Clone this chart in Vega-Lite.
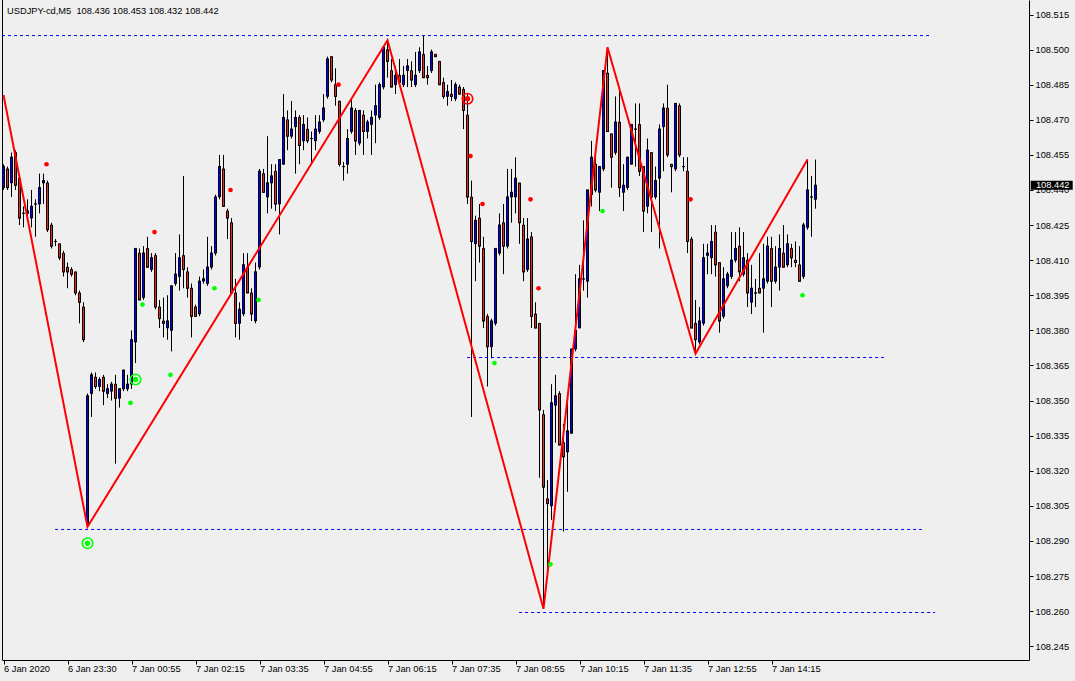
{
"$schema": "https://vega.github.io/schema/vega-lite/v6.json",
"width": 1027, "height": 660,
"autosize": {"type": "none"},
"padding": {"left": 2, "top": 0, "right": 46, "bottom": 21},
"background": "#efefef",
"config": {"view": {"stroke": null}, "scale": {"continuousPadding": 0}, "axis": {"labelFont": "Liberation Sans", "labelFontSize": 9.3, "labelColor": "#000000", "tickColor": "#000000", "domainColor": "#000000", "grid": false}},
"datasets": {
"bars": [
{"i":0,"o":108.441,"h":108.451,"l":108.440,"c":108.450},
{"i":1,"o":108.449,"h":108.450,"l":108.440,"c":108.441},
{"i":2,"o":108.443,"h":108.456,"l":108.437,"c":108.454},
{"i":3,"o":108.456,"h":108.457,"l":108.440,"c":108.442},
{"i":4,"o":108.445,"h":108.446,"l":108.425,"c":108.428},
{"i":5,"o":108.430,"h":108.433,"l":108.424,"c":108.430},
{"i":6,"o":108.430,"h":108.436,"l":108.427,"c":108.431},
{"i":7,"o":108.428,"h":108.440,"l":108.424,"c":108.433},
{"i":8,"o":108.434,"h":108.436,"l":108.420,"c":108.434},
{"i":9,"o":108.434,"h":108.447,"l":108.430,"c":108.441},
{"i":10,"o":108.443,"h":108.447,"l":108.434,"c":108.444},
{"i":11,"o":108.443,"h":108.444,"l":108.422,"c":108.423},
{"i":12,"o":108.425,"h":108.426,"l":108.415,"c":108.416},
{"i":13,"o":108.418,"h":108.419,"l":108.416,"c":108.418},
{"i":14,"o":108.417,"h":108.417,"l":108.410,"c":108.411},
{"i":15,"o":108.413,"h":108.414,"l":108.403,"c":108.405},
{"i":16,"o":108.407,"h":108.409,"l":108.398,"c":108.405},
{"i":17,"o":108.406,"h":108.407,"l":108.403,"c":108.404},
{"i":18,"o":108.405,"h":108.405,"l":108.395,"c":108.396},
{"i":19,"o":108.396,"h":108.397,"l":108.383,"c":108.392},
{"i":20,"o":108.390,"h":108.392,"l":108.375,"c":108.376},
{"i":21,"o":108.297,"h":108.353,"l":108.296,"c":108.352},
{"i":22,"o":108.353,"h":108.362,"l":108.343,"c":108.361},
{"i":23,"o":108.360,"h":108.362,"l":108.355,"c":108.356},
{"i":24,"o":108.356,"h":108.360,"l":108.354,"c":108.359},
{"i":25,"o":108.360,"h":108.361,"l":108.348,"c":108.354},
{"i":26,"o":108.353,"h":108.357,"l":108.351,"c":108.355},
{"i":27,"o":108.354,"h":108.358,"l":108.350,"c":108.357},
{"i":28,"o":108.357,"h":108.361,"l":108.323,"c":108.351},
{"i":29,"o":108.351,"h":108.355,"l":108.347,"c":108.355},
{"i":30,"o":108.355,"h":108.363,"l":108.354,"c":108.363},
{"i":31,"o":108.355,"h":108.361,"l":108.354,"c":108.357},
{"i":32,"o":108.357,"h":108.380,"l":108.355,"c":108.376},
{"i":33,"o":108.375,"h":108.415,"l":108.366,"c":108.415},
{"i":34,"o":108.413,"h":108.415,"l":108.393,"c":108.393},
{"i":35,"o":108.394,"h":108.416,"l":108.393,"c":108.413},
{"i":36,"o":108.415,"h":108.420,"l":108.407,"c":108.407},
{"i":37,"o":108.406,"h":108.413,"l":108.405,"c":108.411},
{"i":38,"o":108.412,"h":108.413,"l":108.389,"c":108.390},
{"i":39,"o":108.390,"h":108.393,"l":108.381,"c":108.385},
{"i":40,"o":108.384,"h":108.394,"l":108.377,"c":108.383},
{"i":41,"o":108.381,"h":108.395,"l":108.376,"c":108.384},
{"i":42,"o":108.380,"h":108.399,"l":108.371,"c":108.399},
{"i":43,"o":108.400,"h":108.413,"l":108.399,"c":108.404},
{"i":44,"o":108.403,"h":108.421,"l":108.397,"c":108.411},
{"i":45,"o":108.412,"h":108.446,"l":108.398,"c":108.406},
{"i":46,"o":108.405,"h":108.407,"l":108.394,"c":108.398},
{"i":47,"o":108.398,"h":108.400,"l":108.377,"c":108.386},
{"i":48,"o":108.390,"h":108.391,"l":108.386,"c":108.386},
{"i":49,"o":108.387,"h":108.403,"l":108.386,"c":108.401},
{"i":50,"o":108.401,"h":108.406,"l":108.400,"c":108.402},
{"i":51,"o":108.400,"h":108.420,"l":108.399,"c":108.407},
{"i":52,"o":108.407,"h":108.416,"l":108.406,"c":108.413},
{"i":53,"o":108.413,"h":108.438,"l":108.412,"c":108.437},
{"i":54,"o":108.437,"h":108.455,"l":108.436,"c":108.450},
{"i":55,"o":108.449,"h":108.455,"l":108.433,"c":108.433},
{"i":56,"o":108.431,"h":108.432,"l":108.419,"c":108.428},
{"i":57,"o":108.426,"h":108.428,"l":108.396,"c":108.396},
{"i":58,"o":108.396,"h":108.402,"l":108.377,"c":108.383},
{"i":59,"o":108.383,"h":108.392,"l":108.376,"c":108.389},
{"i":60,"o":108.387,"h":108.413,"l":108.386,"c":108.408},
{"i":61,"o":108.407,"h":108.413,"l":108.396,"c":108.396},
{"i":62,"o":108.396,"h":108.398,"l":108.384,"c":108.387},
{"i":63,"o":108.384,"h":108.409,"l":108.383,"c":108.405},
{"i":64,"o":108.407,"h":108.449,"l":108.406,"c":108.448},
{"i":65,"o":108.447,"h":108.449,"l":108.439,"c":108.439},
{"i":66,"o":108.437,"h":108.463,"l":108.430,"c":108.443},
{"i":67,"o":108.443,"h":108.451,"l":108.432,"c":108.446},
{"i":68,"o":108.448,"h":108.451,"l":108.431,"c":108.434},
{"i":69,"o":108.434,"h":108.453,"l":108.421,"c":108.453},
{"i":70,"o":108.451,"h":108.481,"l":108.451,"c":108.471},
{"i":71,"o":108.470,"h":108.474,"l":108.457,"c":108.463},
{"i":72,"o":108.463,"h":108.478,"l":108.462,"c":108.466},
{"i":73,"o":108.467,"h":108.474,"l":108.447,"c":108.471},
{"i":74,"o":108.471,"h":108.472,"l":108.451,"c":108.459},
{"i":75,"o":108.461,"h":108.472,"l":108.457,"c":108.468},
{"i":76,"o":108.466,"h":108.471,"l":108.460,"c":108.461},
{"i":77,"o":108.462,"h":108.465,"l":108.451,"c":108.462},
{"i":78,"o":108.461,"h":108.472,"l":108.457,"c":108.466},
{"i":79,"o":108.465,"h":108.472,"l":108.464,"c":108.469},
{"i":80,"o":108.470,"h":108.481,"l":108.469,"c":108.475},
{"i":81,"o":108.480,"h":108.497,"l":108.479,"c":108.496},
{"i":82,"o":108.497,"h":108.497,"l":108.486,"c":108.487},
{"i":83,"o":108.485,"h":108.492,"l":108.476,"c":108.480},
{"i":84,"o":108.478,"h":108.478,"l":108.450,"c":108.451},
{"i":85,"o":108.450,"h":108.452,"l":108.444,"c":108.450},
{"i":86,"o":108.451,"h":108.466,"l":108.447,"c":108.462},
{"i":87,"o":108.465,"h":108.479,"l":108.464,"c":108.475},
{"i":88,"o":108.474,"h":108.475,"l":108.455,"c":108.461},
{"i":89,"o":108.460,"h":108.474,"l":108.459,"c":108.474},
{"i":90,"o":108.472,"h":108.474,"l":108.455,"c":108.465},
{"i":91,"o":108.465,"h":108.470,"l":108.462,"c":108.469},
{"i":92,"o":108.468,"h":108.474,"l":108.455,"c":108.471},
{"i":93,"o":108.472,"h":108.485,"l":108.460,"c":108.476},
{"i":94,"o":108.471,"h":108.486,"l":108.470,"c":108.485},
{"i":95,"o":108.484,"h":108.501,"l":108.483,"c":108.501},
{"i":96,"o":108.500,"h":108.504,"l":108.488,"c":108.495},
{"i":97,"o":108.491,"h":108.496,"l":108.484,"c":108.484},
{"i":98,"o":108.485,"h":108.493,"l":108.481,"c":108.489},
{"i":99,"o":108.489,"h":108.496,"l":108.485,"c":108.486},
{"i":100,"o":108.485,"h":108.493,"l":108.484,"c":108.489},
{"i":101,"o":108.491,"h":108.496,"l":108.484,"c":108.493},
{"i":102,"o":108.491,"h":108.495,"l":108.484,"c":108.487},
{"i":103,"o":108.485,"h":108.499,"l":108.484,"c":108.489},
{"i":104,"o":108.491,"h":108.501,"l":108.490,"c":108.499},
{"i":105,"o":108.498,"h":108.506,"l":108.488,"c":108.488},
{"i":106,"o":108.489,"h":108.493,"l":108.485,"c":108.488},
{"i":107,"o":108.491,"h":108.500,"l":108.490,"c":108.499},
{"i":108,"o":108.498,"h":108.498,"l":108.497,"c":108.497},
{"i":109,"o":108.495,"h":108.495,"l":108.485,"c":108.485},
{"i":110,"o":108.486,"h":108.488,"l":108.479,"c":108.480},
{"i":111,"o":108.480,"h":108.485,"l":108.476,"c":108.482},
{"i":112,"o":108.481,"h":108.487,"l":108.478,"c":108.480},
{"i":113,"o":108.479,"h":108.486,"l":108.478,"c":108.485},
{"i":114,"o":108.484,"h":108.485,"l":108.481,"c":108.481},
{"i":115,"o":108.483,"h":108.484,"l":108.466,"c":108.474},
{"i":116,"o":108.472,"h":108.481,"l":108.434,"c":108.437},
{"i":117,"o":108.437,"h":108.444,"l":108.343,"c":108.418},
{"i":118,"o":108.417,"h":108.429,"l":108.401,"c":108.427},
{"i":119,"o":108.428,"h":108.434,"l":108.409,"c":108.416},
{"i":120,"o":108.415,"h":108.420,"l":108.381,"c":108.384},
{"i":121,"o":108.386,"h":108.387,"l":108.356,"c":108.373},
{"i":122,"o":108.373,"h":108.385,"l":108.368,"c":108.384},
{"i":123,"o":108.383,"h":108.415,"l":108.382,"c":108.415},
{"i":124,"o":108.413,"h":108.430,"l":108.412,"c":108.425},
{"i":125,"o":108.426,"h":108.434,"l":108.404,"c":108.416},
{"i":126,"o":108.416,"h":108.449,"l":108.415,"c":108.437},
{"i":127,"o":108.437,"h":108.449,"l":108.426,"c":108.439},
{"i":128,"o":108.437,"h":108.454,"l":108.430,"c":108.445},
{"i":129,"o":108.443,"h":108.443,"l":108.417,"c":108.426},
{"i":130,"o":108.425,"h":108.428,"l":108.401,"c":108.405},
{"i":131,"o":108.406,"h":108.428,"l":108.405,"c":108.419},
{"i":132,"o":108.420,"h":108.422,"l":108.381,"c":108.386},
{"i":133,"o":108.387,"h":108.392,"l":108.381,"c":108.381},
{"i":134,"o":108.383,"h":108.383,"l":108.317,"c":108.346},
{"i":135,"o":108.344,"h":108.346,"l":108.261,"c":108.313},
{"i":136,"o":108.308,"h":108.316,"l":108.275,"c":108.306},
{"i":137,"o":108.305,"h":108.357,"l":108.299,"c":108.349},
{"i":138,"o":108.348,"h":108.361,"l":108.332,"c":108.352},
{"i":139,"o":108.353,"h":108.354,"l":108.331,"c":108.331},
{"i":140,"o":108.332,"h":108.340,"l":108.294,"c":108.326},
{"i":141,"o":108.328,"h":108.352,"l":108.311,"c":108.337},
{"i":142,"o":108.336,"h":108.372,"l":108.336,"c":108.372},
{"i":143,"o":108.372,"h":108.404,"l":108.371,"c":108.380},
{"i":144,"o":108.381,"h":108.408,"l":108.381,"c":108.402},
{"i":145,"o":108.402,"h":108.427,"l":108.397,"c":108.402},
{"i":146,"o":108.401,"h":108.440,"l":108.394,"c":108.440},
{"i":147,"o":108.438,"h":108.461,"l":108.433,"c":108.454},
{"i":148,"o":108.451,"h":108.458,"l":108.439,"c":108.440},
{"i":149,"o":108.439,"h":108.450,"l":108.431,"c":108.450},
{"i":150,"o":108.449,"h":108.491,"l":108.448,"c":108.491},
{"i":151,"o":108.490,"h":108.501,"l":108.465,"c":108.465},
{"i":152,"o":108.464,"h":108.464,"l":108.441,"c":108.454},
{"i":153,"o":108.456,"h":108.480,"l":108.455,"c":108.469},
{"i":154,"o":108.469,"h":108.483,"l":108.437,"c":108.441},
{"i":155,"o":108.439,"h":108.451,"l":108.431,"c":108.442},
{"i":156,"o":108.441,"h":108.454,"l":108.440,"c":108.454},
{"i":157,"o":108.451,"h":108.468,"l":108.451,"c":108.468},
{"i":158,"o":108.466,"h":108.477,"l":108.450,"c":108.466},
{"i":159,"o":108.468,"h":108.477,"l":108.446,"c":108.448},
{"i":160,"o":108.450,"h":108.450,"l":108.422,"c":108.431},
{"i":161,"o":108.433,"h":108.462,"l":108.430,"c":108.457},
{"i":162,"o":108.456,"h":108.456,"l":108.422,"c":108.437},
{"i":163,"o":108.437,"h":108.450,"l":108.436,"c":108.444},
{"i":164,"o":108.445,"h":108.468,"l":108.415,"c":108.466},
{"i":165,"o":108.467,"h":108.477,"l":108.448,"c":108.475},
{"i":166,"o":108.475,"h":108.485,"l":108.454,"c":108.455},
{"i":167,"o":108.451,"h":108.451,"l":108.439,"c":108.450},
{"i":168,"o":108.449,"h":108.477,"l":108.448,"c":108.477},
{"i":169,"o":108.476,"h":108.477,"l":108.454,"c":108.455},
{"i":170,"o":108.450,"h":108.454,"l":108.448,"c":108.450},
{"i":171,"o":108.448,"h":108.454,"l":108.413,"c":108.418},
{"i":172,"o":108.419,"h":108.420,"l":108.381,"c":108.381},
{"i":173,"o":108.383,"h":108.393,"l":108.370,"c":108.376},
{"i":174,"o":108.375,"h":108.390,"l":108.374,"c":108.384},
{"i":175,"o":108.383,"h":108.417,"l":108.382,"c":108.411},
{"i":176,"o":108.412,"h":108.417,"l":108.404,"c":108.413},
{"i":177,"o":108.411,"h":108.425,"l":108.404,"c":108.418},
{"i":178,"o":108.422,"h":108.425,"l":108.403,"c":108.408},
{"i":179,"o":108.409,"h":108.409,"l":108.379,"c":108.384},
{"i":180,"o":108.386,"h":108.407,"l":108.385,"c":108.402},
{"i":181,"o":108.399,"h":108.405,"l":108.398,"c":108.404},
{"i":182,"o":108.403,"h":108.422,"l":108.402,"c":108.410},
{"i":183,"o":108.410,"h":108.422,"l":108.409,"c":108.415},
{"i":184,"o":108.416,"h":108.424,"l":108.401,"c":108.405},
{"i":185,"o":108.404,"h":108.422,"l":108.403,"c":108.411},
{"i":186,"o":108.410,"h":108.413,"l":108.390,"c":108.396},
{"i":187,"o":108.392,"h":108.408,"l":108.387,"c":108.398},
{"i":188,"o":108.396,"h":108.402,"l":108.390,"c":108.396},
{"i":189,"o":108.398,"h":108.413,"l":108.396,"c":108.396},
{"i":190,"o":108.398,"h":108.417,"l":108.379,"c":108.402},
{"i":191,"o":108.401,"h":108.420,"l":108.400,"c":108.416},
{"i":192,"o":108.415,"h":108.420,"l":108.390,"c":108.401},
{"i":193,"o":108.401,"h":108.416,"l":108.400,"c":108.407},
{"i":194,"o":108.407,"h":108.421,"l":108.397,"c":108.415},
{"i":195,"o":108.413,"h":108.425,"l":108.407,"c":108.407},
{"i":196,"o":108.408,"h":108.421,"l":108.407,"c":108.417},
{"i":197,"o":108.415,"h":108.417,"l":108.407,"c":108.411},
{"i":198,"o":108.410,"h":108.418,"l":108.407,"c":108.409},
{"i":199,"o":108.408,"h":108.416,"l":108.401,"c":108.401},
{"i":200,"o":108.403,"h":108.426,"l":108.402,"c":108.425},
{"i":201,"o":108.424,"h":108.453,"l":108.423,"c":108.440},
{"i":202,"o":108.437,"h":108.446,"l":108.420,"c":108.437},
{"i":203,"o":108.436,"h":108.453,"l":108.432,"c":108.442}
],
"zigzag": [
{"i":0,"p":108.4806},{"i":21,"p":108.296},{"i":96,"p":108.504},{"i":135,"p":108.261},{"i":151,"p":108.501},{"i":173,"p":108.370},{"i":201,"p":108.453}
],
"levels": [
{"x1":-0.375,"x2":231.6,"p":108.5060},
{"x1":115.9,"x2":220.1,"p":108.3684},
{"x1":12.9,"x2":229.6,"p":108.2949},
{"x1":128.9,"x2":232.9,"p":108.2594}
],
"dots": [
{"i":11,"p":108.451,"k":"r"},{"i":38,"p":108.422,"k":"r"},{"i":57,"p":108.440,"k":"r"},{"i":84,"p":108.485,"k":"r"},{"i":117,"p":108.4545,"k":"r"},{"i":120,"p":108.434,"k":"r"},{"i":132,"p":108.436,"k":"r"},{"i":134,"p":108.398,"k":"r"},{"i":172,"p":108.436,"k":"r"},
{"i":32,"p":108.349,"k":"g"},{"i":35,"p":108.391,"k":"g"},{"i":42,"p":108.361,"k":"g"},{"i":53,"p":108.398,"k":"g"},{"i":64,"p":108.393,"k":"g"},{"i":123,"p":108.366,"k":"g"},{"i":137,"p":108.280,"k":"g"},{"i":150,"p":108.431,"k":"g"},{"i":200,"p":108.395,"k":"g"}
],
"rings": [
{"i":21,"p":108.289,"k":"g"},{"i":33,"p":108.359,"k":"g"},{"i":116,"p":108.479,"k":"r"}
],
"last": [{"price":108.442}],
"header": [{"t":"USDJPY-cd,M5\u00a0\u00a0108.436 108.453 108.432 108.442"}]
},
"layer": [
{
"data": {"name": "bars"},
"mark": {"type": "rule", "color": "#000000", "strokeWidth": 1},
"encoding": {
"x": {"field": "i", "type": "quantitative", "title": null, "scale": {"domain": [-0.375, 256.375], "nice": false, "zero": false, "padding": 0},
"axis": {"orient": "bottom", "title": null, "values": [0,16,32,48,64,80,96,112,128,144,160,176,192], "tickCount": 60, "labelExpr": "['6 Jan 2020','6 Jan 23:30','7 Jan 00:55','7 Jan 02:15','7 Jan 03:35','7 Jan 04:55','7 Jan 06:15','7 Jan 07:35','7 Jan 08:55','7 Jan 10:15','7 Jan 11:35','7 Jan 12:55','7 Jan 14:15'][round(datum.value/16)]", "labelAlign": "left", "labelBaseline": "top", "tickSize": 4, "labelPadding": 0, "labelFlush": false, "labelOverlap": false}},
"y": {"field": "l", "type": "quantitative", "title": null, "scale": {"domain": [108.2391, 108.5212], "nice": false, "zero": false, "padding": 0},
"axis": {"orient": "right", "title": null, "values": [108.245,108.26,108.275,108.29,108.305,108.32,108.335,108.35,108.365,108.38,108.395,108.41,108.425,108.44,108.455,108.47,108.485,108.5,108.515], "tickCount": 60, "format": ".3f", "tickSize": 4, "labelPadding": 2, "labelBaseline": "middle", "labelFlush": false, "labelOverlap": false}},
"y2": {"field": "h"}
}
},
{
"data": {"name": "bars"},
"mark": {"type": "bar", "size": 2, "stroke": "#000000", "strokeWidth": 1},
"encoding": {
"x": {"field": "i", "type": "quantitative", "title": null},
"y": {"field": "o", "type": "quantitative", "title": null},
"y2": {"field": "c"},
"fill": {"condition": {"test": "datum.c >= datum.o", "value": "#0000ff"}, "value": "#e8281c"}
}
},
{
"data": {"name": "bars"},
"mark": {"type": "tick", "orient": "horizontal", "size": 3, "thickness": 1, "color": "#000000"},
"encoding": {
"x": {"field": "i", "type": "quantitative", "title": null},
"y": {"field": "c", "type": "quantitative", "title": null}
}
},
{
"data": {"values": [{"edge": -0.25}]},
"mark": {"type": "rule", "color": "#000000", "strokeWidth": 1},
"encoding": {"x": {"field": "edge", "type": "quantitative", "title": null}}
},
{
"data": {"name": "levels"},
"mark": {"type": "rule", "color": "#0000ff", "strokeWidth": 1, "strokeDash": [3, 3]},
"encoding": {
"x": {"field": "x1", "type": "quantitative", "title": null},
"x2": {"field": "x2"},
"y": {"field": "p", "type": "quantitative", "title": null}
}
},
{
"data": {"name": "zigzag"},
"mark": {"type": "line", "color": "#ff0000", "strokeWidth": 2},
"encoding": {
"x": {"field": "i", "type": "quantitative", "title": null},
"y": {"field": "p", "type": "quantitative", "title": null}
}
},
{
"data": {"name": "rings"},
"mark": {"type": "point", "shape": "circle", "filled": false, "size": 110, "strokeWidth": 1.6, "opacity": 1},
"encoding": {
"x": {"field": "i", "type": "quantitative", "title": null},
"y": {"field": "p", "type": "quantitative", "title": null},
"stroke": {"field": "k", "type": "nominal", "scale": {"domain": ["r", "g"], "range": ["#ff0000", "#00ff00"]}, "legend": null}
}
},
{
"data": {"name": "rings"},
"mark": {"type": "point", "shape": "circle", "filled": true, "size": 30, "opacity": 1},
"encoding": {
"x": {"field": "i", "type": "quantitative", "title": null},
"y": {"field": "p", "type": "quantitative", "title": null},
"fill": {"field": "k", "type": "nominal", "scale": {"domain": ["r", "g"], "range": ["#ff0000", "#00ff00"]}, "legend": null}
}
},
{
"data": {"name": "dots"},
"mark": {"type": "point", "shape": "circle", "filled": true, "size": 22, "opacity": 1, "xOffset": -1},
"encoding": {
"x": {"field": "i", "type": "quantitative", "title": null},
"y": {"field": "p", "type": "quantitative", "title": null},
"fill": {"field": "k", "type": "nominal", "scale": {"domain": ["r", "g"], "range": ["#ff0000", "#00ff00"]}, "legend": null}
}
},
{
"data": {"name": "last"},
"mark": {"type": "rule", "color": "#000000", "strokeWidth": 9, "strokeCap": "butt"},
"encoding": {
"x": {"datum": 256.8, "type": "quantitative", "title": null},
"x2": {"datum": 267.3},
"y": {"field": "price", "type": "quantitative", "title": null}
}
},
{
"data": {"name": "last"},
"mark": {"type": "text", "align": "left", "baseline": "middle", "font": "Liberation Sans", "fontSize": 9.3, "color": "#ffffff"},
"encoding": {
"x": {"datum": 258.1, "type": "quantitative", "title": null},
"y": {"field": "price", "type": "quantitative", "title": null},
"text": {"field": "price", "type": "quantitative", "format": ".3f"}
}
},
{
"data": {"name": "header"},
"mark": {"type": "text", "align": "left", "baseline": "alphabetic", "font": "Liberation Sans", "fontSize": 9.3, "color": "#000000"},
"encoding": {
"x": {"datum": 0.875, "type": "quantitative", "title": null},
"y": {"datum": 108.5152, "type": "quantitative", "title": null},
"text": {"field": "t", "type": "nominal"}
}
}
]
}
